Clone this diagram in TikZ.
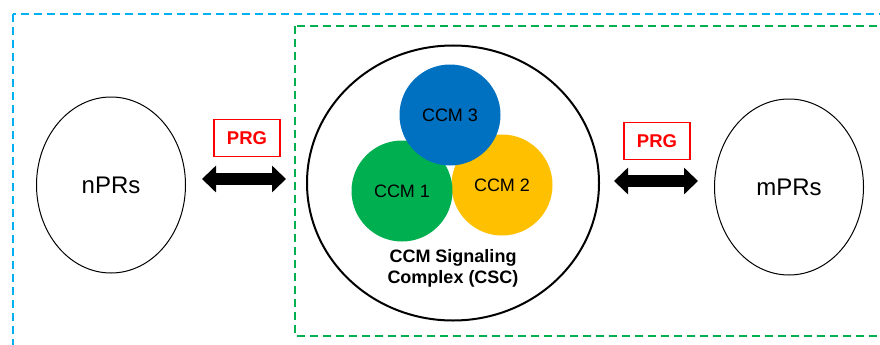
\documentclass[tikz,border=0pt]{standalone}
\usepackage{fontspec}
\setmainfont{Liberation Sans}
\usetikzlibrary{shapes.geometric,arrows.meta}

\definecolor{outerblue}{HTML}{00B0F0}
\definecolor{innergreen}{HTML}{00B050}
\definecolor{ccmblue}{HTML}{0070C0}
\definecolor{ccmgreen}{HTML}{00B050}
\definecolor{ccmyellow}{HTML}{FFC000}

\tikzset{
	dashbox/.style={line width=1.5pt,dash pattern=on 8pt off 5pt},
	prs/.style={ellipse,draw,line width=1pt,minimum width=149pt,minimum height=176pt,font=\fontsize{24}{28}\selectfont},
	ccm/.style={circle,minimum size=101pt,inner sep=0pt,font=\fontsize{18}{21}\selectfont},
	prg/.style={draw=red,text=red,line width=1.8pt,minimum width=66pt,minimum height=37pt,font=\bfseries\fontsize{18.5}{21}\selectfont},
	bigarrow/.style={line width=12pt,{Triangle[width=26pt,length=14pt]}-{Triangle[width=26pt,length=14pt]}}
}

\begin{document}
\begin{tikzpicture}[x=1pt,y=-1pt]

	\useasboundingbox (0,0) rectangle (880,345);

	% dashed frames
	\draw[dashbox,outerblue] (13,14) rectangle (900,370);
	\draw[dashbox,innergreen] (295,26) rectangle (900,336);

	% receptors
	\node[prs] (npr) at (111,185) {nPRs};
	\node[prs] (mpr) at (789,187) {mPRs};

	% signaling complex
	\node[ellipse,draw,line width=2pt,minimum width=292pt,minimum height=275pt] (csc) at (453,183) {};
	\node[ccm,fill=ccmyellow] (ccm2) at (502,185) {CCM 2};
	\node[ccm,fill=ccmgreen] (ccm1) at (402,191) {CCM 1};
	\node[ccm,fill=ccmblue] (ccm3) at (450,115) {CCM 3};
	\node[align=center,font=\bfseries\fontsize{18}{21}\selectfont] (csclabel) at (453,268) {CCM Signaling\\Complex (CSC)};

	% PRG links
	\node[prg] (prgl) at (247,138) {PRG};
	\node[prg] (prgr) at (657,141) {PRG};
	\draw[bigarrow] ([xshift=16pt,yshift=6pt]npr.east) -- ([xshift=-20pt,yshift=4pt]csc.west);
	\draw[bigarrow] ([xshift=14pt,yshift=2pt]csc.east) -- ([xshift=-16pt,yshift=6pt]mpr.west);

\end{tikzpicture}
\end{document}
